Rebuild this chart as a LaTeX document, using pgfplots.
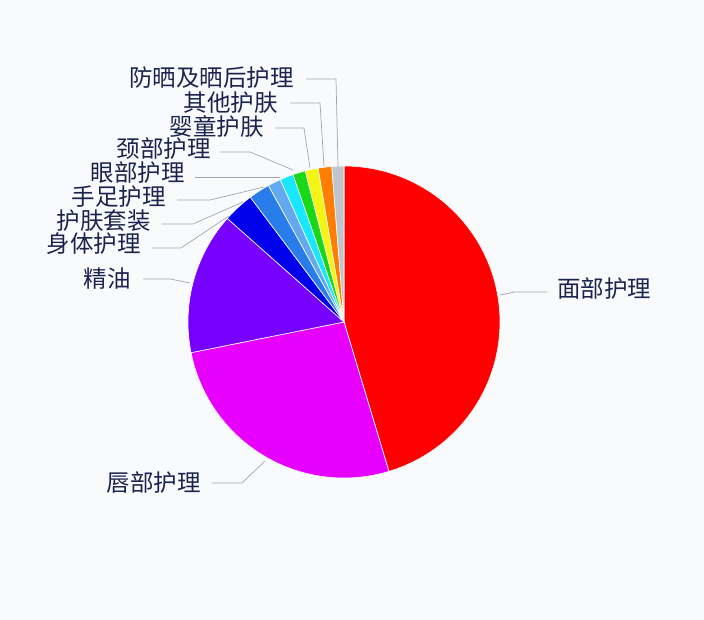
\documentclass[border=0pt]{standalone}
\usepackage{fontspec}
\usepackage{pgfplots}
\pgfplotsset{compat=1.18}
\usepgfplotslibrary{polar}
\newfontfamily\cjk{Noto Sans CJK SC}

\definecolor{bg}{RGB}{249,250,252}
\definecolor{txt}{RGB}{28,36,78}
\definecolor{lead}{RGB}{160,165,178}
\definecolor{c1}{RGB}{255,0,0}
\definecolor{c2}{RGB}{232,0,255}
\definecolor{c3}{RGB}{120,0,255}
\definecolor{c4}{RGB}{0,0,235}
\definecolor{c5}{RGB}{40,125,235}
\definecolor{c6}{RGB}{100,168,240}
\definecolor{c7}{RGB}{25,230,255}
\definecolor{c8}{RGB}{25,215,25}
\definecolor{c9}{RGB}{245,245,20}
\definecolor{c10}{RGB}{255,125,0}
\definecolor{c11}{RGB}{192,196,204}

% slice: colour, cumulative share before, cumulative share after (percent)
\newcommand\slice[3]{%
  \addplot[fill=#1, draw=white, line width=0.6pt, domain={90-3.6*#3}:{90-3.6*#2}, samples=60]
    {1} -- (axis cs:0,0) -- cycle;}

\begin{document}
\begin{tikzpicture}[x=1bp, y=1bp]
\fill[bg] (0,0) rectangle (704,620);

\begin{polaraxis}[
  at={(344bp,298bp)}, anchor=center,
  scale only axis, width=312bp, height=312bp,
  xmin=0, xmax=360, ymin=0, ymax=1,
  hide axis, clip=false]
% shares: 45.35 26.5 14.7 3.2 2.2 1.35 1.4 1.3 1.35 1.4 1.25
\slice{c1}{0}{45.35}
\slice{c2}{45.35}{71.85}
\slice{c3}{71.85}{86.55}
\slice{c4}{86.55}{89.75}
\slice{c5}{89.75}{91.95}
\slice{c6}{91.95}{93.3}
\slice{c7}{93.3}{94.7}
\slice{c8}{94.7}{96.0}
\slice{c9}{96.0}{97.35}
\slice{c10}{97.35}{98.75}
\slice{c11}{98.75}{100}
\end{polaraxis}

\begin{scope}[lead, line width=0.7pt]
\draw (500,325) -- (515,328) -- (547,328);
\draw (265,159) -- (242,137) -- (212,137);
\draw (190,337) -- (170,341) -- (143,341);
\draw (229,404) -- (181,372) -- (152,372);
\draw (243,418) -- (193,396) -- (162,396);
\draw (264,433) -- (210,420) -- (177,420);
\draw (280,443) -- (195,443);
\draw (293,450) -- (250,468) -- (220,468);
\draw (310,452) -- (304,492) -- (275,492);
\draw (324,454) -- (320,517) -- (290,517);
\draw (338,454) -- (336,541) -- (306,541);
\end{scope}

\begin{scope}[every node/.style={font=\cjk\fontsize{23.5bp}{27bp}\selectfont, text=txt, inner sep=0pt}]
\node[anchor=west] at (557,331) {面部护理};
\node[anchor=east] at (201,137) {唇部护理};
\node[anchor=east] at (131,341) {精油};
\node[anchor=east] at (141,376) {身体护理};
\node[anchor=east] at (151,399) {护肤套装};
\node[anchor=east] at (166,423) {手足护理};
\node[anchor=east] at (185,447) {眼部护理};
\node[anchor=east] at (211,471) {颈部护理};
\node[anchor=east] at (264,494) {婴童护肤};
\node[anchor=east] at (278,517) {其他护肤};
\node[anchor=east] at (294,542) {防晒及晒后护理};
\end{scope}
\end{tikzpicture}
\end{document}
